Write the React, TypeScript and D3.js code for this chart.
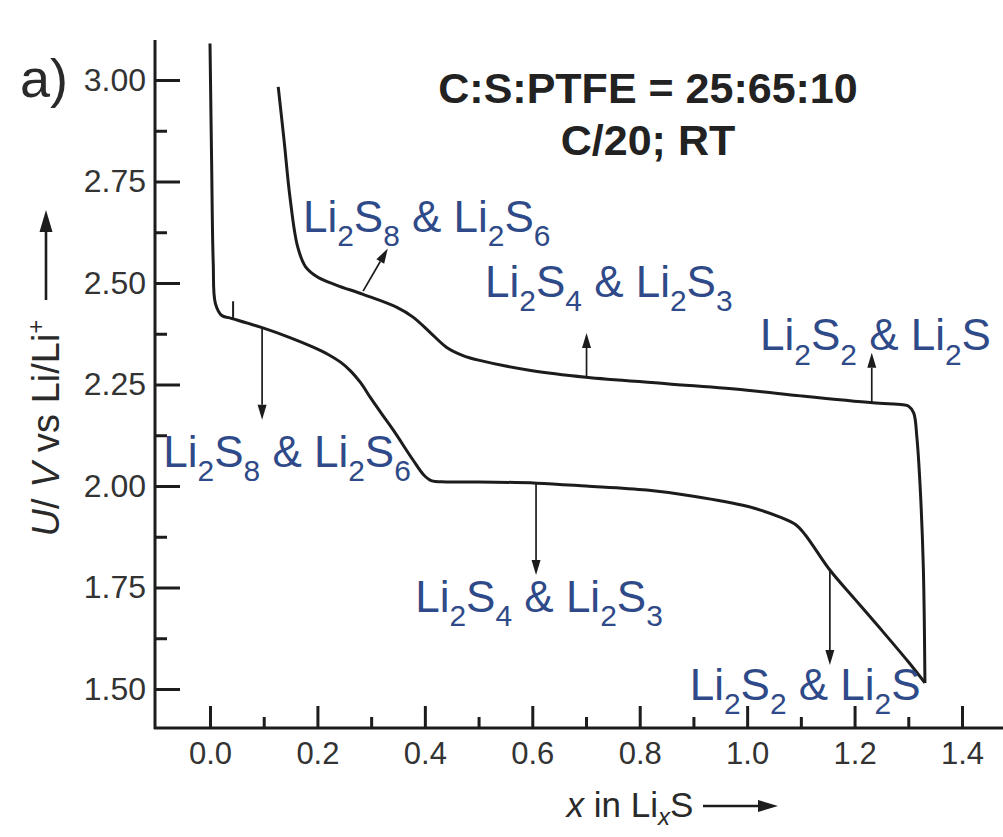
import React, { useEffect, useRef } from "react";
import * as d3 from "d3";

// discharge (lower curve), x in LixS vs U / V
const dischargeX = [0, 0.003, 0.006, 0.01, 0.022, 0.037, 0.097, 0.15, 0.192, 0.22, 0.243, 0.262, 0.28, 0.3, 0.32, 0.341, 0.378, 0.398, 0.412, 0.44, 0.5, 0.608, 0.7, 0.813, 0.9, 1.0, 1.06, 1.09, 1.108, 1.154, 1.2, 1.247, 1.3, 1.331];
const dischargeU = [3.09, 2.8, 2.55, 2.45, 2.42, 2.414, 2.39, 2.365, 2.342, 2.324, 2.305, 2.283, 2.255, 2.215, 2.177, 2.138, 2.064, 2.027, 2.013, 2.01, 2.01, 2.007, 2.0, 1.99, 1.975, 1.95, 1.924, 1.905, 1.88, 1.793, 1.722, 1.65, 1.567, 1.515];

// charge (upper curve), running back from the end of discharge
const chargeX = [1.331, 1.328, 1.322, 1.316, 1.31, 1.3, 1.29, 1.234, 1.1, 1.0, 0.85, 0.7, 0.6, 0.5, 0.47, 0.44, 0.41, 0.378, 0.348, 0.285, 0.235, 0.2, 0.178, 0.163, 0.149, 0.138, 0.127];
const chargeU = [1.515, 1.8, 2.0, 2.12, 2.18, 2.197, 2.2, 2.205, 2.222, 2.236, 2.252, 2.268, 2.284, 2.31, 2.322, 2.342, 2.378, 2.416, 2.44, 2.472, 2.495, 2.515, 2.54, 2.59, 2.71, 2.85, 2.983];

const xMajorTicks = [0, 0.2, 0.4, 0.6, 0.8, 1.0, 1.2, 1.4];
const xMinorTicks = [0.1, 0.3, 0.5, 0.7, 0.9, 1.1, 1.3];
const yMajorTicks = [1.5, 1.75, 2.0, 2.25, 2.5, 2.75, 3.0];
const yMinorTicks = [1.625, 1.875, 2.125, 2.375, 2.625, 2.875];

// phase labels: "_" marks a subscript
const phaseLabels = ["Li_2S_8 & Li_2S_6", "Li_2S_4 & Li_2S_3", "Li_2S_2 & Li_2S", "Li_2S_8 & Li_2S_6", "Li_2S_4 & Li_2S_3", "Li_2S_2 & Li_2S"];
const labelX = [0.173, 0.512, 1.024, -0.087, 0.382, 0.893];
const labelU = [2.626, 2.466, 2.335, 2.047, 1.69, 1.473];

// arrows from the curve to the label
const arrowX0 = [0.285, 0.701, 1.232, 0.097, 0.607, 1.154];
const arrowU0 = [2.48, 2.268, 2.205, 2.39, 2.007, 1.79];
const arrowX1 = [0.331, 0.701, 1.232, 0.097, 0.607, 1.154];
const arrowU1 = [2.585, 2.377, 2.328, 2.163, 1.781, 1.559];

const W = 1003;
const H = 837;
const FONT = "'Liberation Sans', Arial, Helvetica, sans-serif";
const INK = "#1c1c1c";
const BLUE = "#2f4a88";
const LABEL_SIZE = 44;

const x = d3.scaleLinear().domain([0, 1.4]).range([210, 962]);
const y = d3.scaleLinear().domain([1.5, 3.0]).range([689, 80]);

const line = d3
  .line<[number, number]>()
  .x((d) => x(d[0]))
  .y((d) => y(d[1]))
  .curve(d3.curveCatmullRom.alpha(0.5));

// arrow line plus filled head, in pixels
function Arrow({ x1, y1, x2, y2, w, len, hw }: { x1: number; y1: number; x2: number; y2: number; w: number; len: number; hw: number }) {
  const a = Math.atan2(y2 - y1, x2 - x1);
  const bx = x2 - len * Math.cos(a);
  const by = y2 - len * Math.sin(a);
  const px = -Math.sin(a) * hw;
  const py = Math.cos(a) * hw;
  return (
    <g>
      <line x1={x1} y1={y1} x2={bx} y2={by} stroke={INK} strokeWidth={w} />
      <path d={`M${x2},${y2} L${bx + px},${by + py} L${bx - px},${by - py} Z`} fill={INK} />
    </g>
  );
}

function subText(label: string, size: number) {
  const parts: { t: string; sub: boolean }[] = [];
  let i = 0;
  let buf = "";
  while (i < label.length) {
    if (label[i] === "_") {
      if (buf) parts.push({ t: buf, sub: false });
      buf = "";
      parts.push({ t: label[i + 1], sub: true });
      i += 2;
    } else {
      buf += label[i];
      i += 1;
    }
  }
  if (buf) parts.push({ t: buf, sub: false });
  let prevSub = false;
  return parts.map((p, k) => {
    let dy = 0;
    if (p.sub && !prevSub) dy = size * 0.33;
    if (!p.sub && prevSub) dy = -size * 0.33;
    prevSub = p.sub;
    return (
      <tspan key={k} dy={dy} fontSize={p.sub ? size * 0.68 : size}>
        {p.t}
      </tspan>
    );
  });
}

export default function App() {
  const gx = useRef<SVGGElement>(null);
  const gy = useRef<SVGGElement>(null);

  useEffect(() => {
    const ax = d3.select(gx.current);
    ax.selectAll("*").remove();
    ax.append("g")
      .call(d3.axisBottom(x).tickValues(xMajorTicks).tickSize(-22).tickPadding(14).tickFormat(d3.format(".1f")));
    ax.append("g")
      .call(d3.axisBottom(x).tickValues(xMinorTicks).tickSize(-11).tickFormat(() => ""));
    ax.selectAll(".domain").remove();
    ax.selectAll("line").style("stroke", INK).style("stroke-width", "3px");
    ax.selectAll("text")
      .attr("font-family", FONT)
      .attr("font-size", 31)
      .attr("fill", "#333");

    const ay = d3.select(gy.current);
    ay.selectAll("*").remove();
    ay.append("g")
      .call(d3.axisLeft(y).tickValues(yMajorTicks).tickSize(-25).tickPadding(9).tickFormat(d3.format(".2f")));
    ay.append("g")
      .call(d3.axisLeft(y).tickValues(yMinorTicks).tickSize(-12).tickFormat(() => ""));
    ay.selectAll(".domain").remove();
    ay.selectAll("line").style("stroke", INK).style("stroke-width", "3px");
    ay.selectAll("text")
      .attr("font-family", FONT)
      .attr("font-size", 32)
      .attr("fill", "#333");
  }, []);

  const discharge = dischargeX.map((v, i) => [v, dischargeU[i]] as [number, number]);
  const charge = chargeX.map((v, i) => [v, chargeU[i]] as [number, number]);

  return (
    <svg width={W} height={H} style={{ position: "absolute", left: 0, top: 0, background: "#fff" }}>
      {/* axes frame */}
      <line x1={155} x2={155} y1={40} y2={729} stroke={INK} strokeWidth={3} />
      <line x1={154} x2={1003} y1={728} y2={728} stroke={INK} strokeWidth={3} />
      <g ref={gx} transform="translate(0,728)" />
      <g ref={gy} transform="translate(155,0)" />

      {/* curves */}
      <path d={line(discharge) || ""} fill="none" stroke={INK} strokeWidth={3} strokeLinejoin="round" />
      <path d={line(charge) || ""} fill="none" stroke={INK} strokeWidth={3} strokeLinejoin="round" />

      {/* small mark at start of discharge plateau */}
      <line x1={x(0.043)} x2={x(0.043)} y1={y(2.455)} y2={y(2.412)} stroke={INK} strokeWidth={2} />

      {/* annotation arrows */}
      {arrowX0.map((v, i) => (
        <Arrow key={i} x1={x(v)} y1={y(arrowU0[i])} x2={x(arrowX1[i])} y2={y(arrowU1[i])} w={1.7} len={15} hw={4.5} />
      ))}

      {/* phase labels */}
      {phaseLabels.map((t, i) => (
        <text key={i} x={x(labelX[i])} y={y(labelU[i])} fontFamily={FONT} fontSize={LABEL_SIZE} fill={BLUE}>
          {subText(t, LABEL_SIZE)}
        </text>
      ))}

      {/* title */}
      <text x={648} y={103} textAnchor="middle" fontFamily={FONT} fontSize={43} fontWeight="bold" fill="#222">
        C:S:PTFE = 25:65:10
      </text>
      <text x={648} y={155} textAnchor="middle" fontFamily={FONT} fontSize={43} fontWeight="bold" fill="#222">
        C/20; RT
      </text>

      {/* panel letter */}
      <text x={20} y={97} fontFamily={FONT} fontSize={54} fill="#2a2a2a">
        a)
      </text>

      {/* x axis title */}
      <text x={630} y={817} textAnchor="middle" fontFamily={FONT} fontSize={35} fill="#2a2a2a">
        <tspan fontStyle="italic">x</tspan>
        <tspan> in Li</tspan>
        <tspan fontStyle="italic" fontSize={24} dy={8}>x</tspan>
        <tspan dy={-8}>S</tspan>
      </text>
      <Arrow x1={703} y1={806} x2={778} y2={806} w={2.6} len={20} hw={6} />

      {/* y axis title */}
      <g transform="translate(59,428) rotate(-90)">
        <text x={0} y={0} textAnchor="middle" fontFamily={FONT} fontSize={38} fill="#2a2a2a">
          <tspan fontStyle="italic">U</tspan>
          <tspan>/ </tspan>
          <tspan fontStyle="italic">V</tspan>
          <tspan> vs Li/Li</tspan>
          <tspan fontSize={24} dy={-15}>+</tspan>
        </text>
      </g>
      <Arrow x1={46} y1={300} x2={46} y2={210} w={2.6} len={22} hw={6.5} />
    </svg>
  );
}
